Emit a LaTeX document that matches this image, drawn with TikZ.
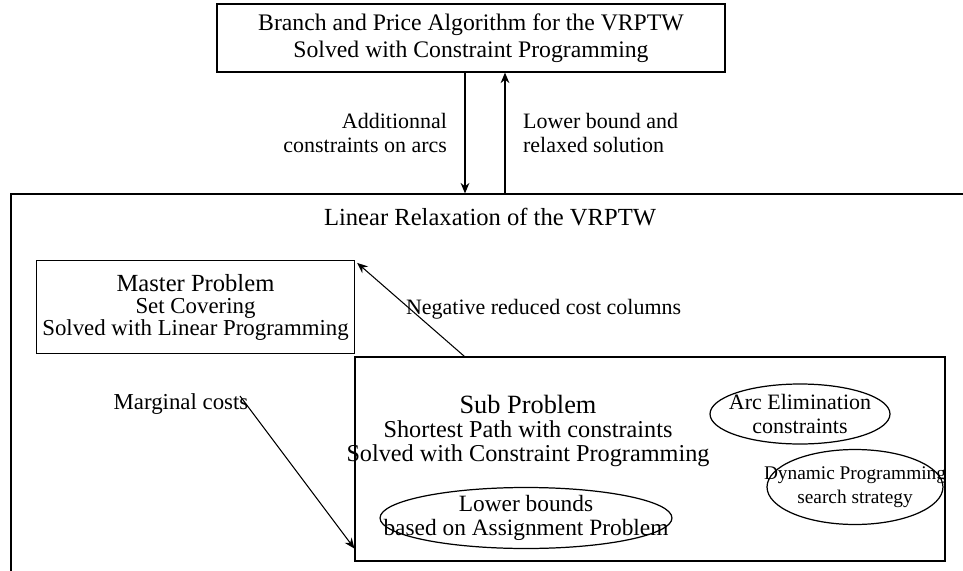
\documentclass[tikz,border=0pt]{standalone}
\usepackage{fontspec}
\setmainfont{Liberation Serif}
\usetikzlibrary{arrows.meta,positioning,shapes.geometric,calc}

\begin{document}
\begin{tikzpicture}[
    x=0.02cm, y=-0.02cm,
    >={Stealth[length=6pt,width=5pt]},
    block/.style={draw, line width=0.7pt, align=center,
                  font=\fontsize{13.5}{15.5}\selectfont},
    oval/.style={draw, ellipse, line width=0.7pt, inner xsep=-1.2cm,
                 inner ysep=-0.3cm, align=center,
                 font=\fontsize{12.5}{13.5}\selectfont},
    arrow/.style={->, line width=0.6pt},
    lbl/.style={inner sep=0pt, font=\fontsize{12.5}{14}\selectfont},
  ]

  \useasboundingbox (0,0) rectangle (963,571);
  \clip (0,0) rectangle (963,571);

  \node[block, minimum width=10.16cm, minimum height=1.36cm] (bp) at (471,38)
    {Branch and Price Algorithm for the VRPTW\\Solved with Constraint Programming};

  % outer frame runs past the right and bottom edges
  \node[block, minimum width=20cm, minimum height=8.52cm] (relax) at (511,407) {};
  \node[lbl, font=\fontsize{14}{16}\selectfont] (relaxtitle) at (490,217)
    {Linear Relaxation of the VRPTW};

  \node[block, minimum width=6.34cm, minimum height=1.86cm,
        font=\fontsize{13}{12.5}\selectfont] (master) at (195.5,307)
    {{\fontsize{14}{12.5}\selectfont Master Problem}\\Set Covering\\Solved with Linear Programming};

  \node[block, minimum width=11.8cm, minimum height=4.08cm] (sub) at (650,459) {};
  \node[lbl, align=center, font=\fontsize{13.8}{13.6}\selectfont] (subtxt) at (528,431)
    {{\fontsize{15}{13.6}\selectfont Sub Problem}\\Shortest Path with constraints\\Solved with Constraint Programming};

  \node[oval, minimum width=3.6cm, minimum height=1.2cm] (arcelim) at (800,414)
    {Arc Elimination\\constraints};
  \node[oval, minimum width=3.52cm, minimum height=1.5cm,
        font=\fontsize{11}{13.5}\selectfont] (dynprog) at (855,487)
    {Dynamic Programming\\search strategy};
  \node[oval, minimum width=5.84cm, minimum height=1.22cm,
        font=\fontsize{13.3}{13.5}\selectfont] (lowbnd) at (526,518)
    {Lower bounds\\based on Assignment Problem};

  \coordinate (dn) at ($(bp.south)+(-6,0)$);
  \coordinate (up) at ($(bp.south)+(34,0)$);
  \coordinate (mc) at (240,396);
  \node[lbl, font=\fontsize{13}{14}\selectfont] (mctxt) at (181,404) {Marginal costs};

  \draw[arrow] (dn) -- (dn |- relax.north)
    node[midway, left=10pt, lbl, align=right] {Additionnal\\constraints on arcs};
  \draw[arrow] (up |- relax.north) -- (up)
    node[midway, right=10pt, lbl, align=left] {Lower bound and\\relaxed solution};
  \draw[arrow] ($(sub.north west)+(110,0)$) -- ($(master.north east)+(2,3)$)
    node[pos=0.5, anchor=west, xshift=-3pt, lbl] {Negative reduced cost columns};
  \draw[arrow] (mc) -- ($(sub.south west)+(0,-13)$);

\end{tikzpicture}
\end{document}
